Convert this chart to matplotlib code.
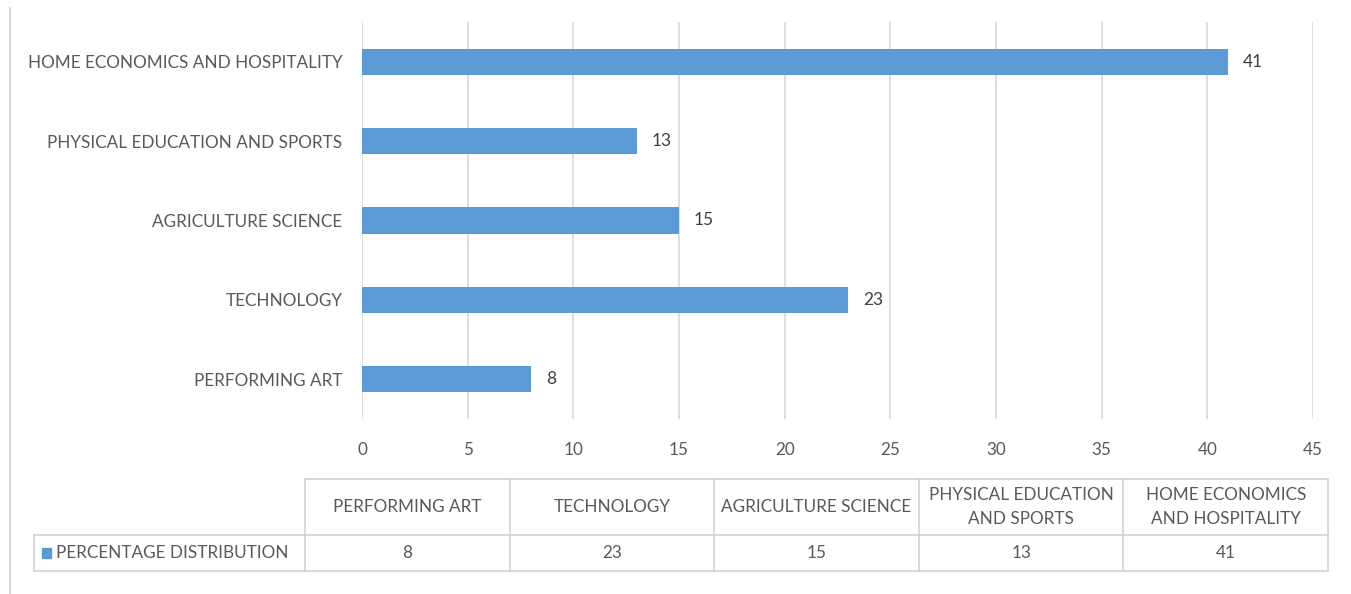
import matplotlib
matplotlib.use("Agg")
import matplotlib.pyplot as plt
from matplotlib.lines import Line2D
from matplotlib.patches import Rectangle

# subjects, bottom to top
subjects = ["PERFORMING ART", "TECHNOLOGY", "AGRICULTURE SCIENCE",
            "PHYSICAL EDUCATION AND SPORTS", "HOME ECONOMICS AND HOSPITALITY"]
table_heads = ["PERFORMING ART", "TECHNOLOGY", "AGRICULTURE SCIENCE",
               "PHYSICAL EDUCATION\nAND SPORTS", "HOME ECONOMICS\nAND HOSPITALITY"]
percent = [8, 23, 15, 13, 41]
series_name = "PERCENTAGE DISTRIBUTION"
xticks = [0, 5, 10, 15, 20, 25, 30, 35, 40, 45]

blue = "#5B9BD5"
grey_txt = "#595959"
grid_c = "#D9D9D9"

plt.rcParams["font.family"] = ["Lato", "DejaVu Sans"]

W, H = 1351, 594
fig = plt.figure(figsize=(W / 100, H / 100), dpi=100)

def fx(px):
    return px / W

def fy(py):
    return 1 - py / H

# outer frame line on the left
fig.add_artist(Line2D([fx(10), fx(10)], [fy(8), fy(594)], color="#D0D0D0", lw=1.2))

ax = fig.add_axes([fx(362), fy(419), fx(1313 - 362), fy(22) - fy(419)])
ypos = list(range(len(subjects)))
ax.barh(ypos, percent, height=0.33, color=blue, zorder=3)
for y, v in zip(ypos, percent):
    ax.text(v + 0.7, y, str(v), va="center", ha="left", fontsize=12.5, color="#404040")

ax.set_xlim(0, 45)
ax.set_ylim(-0.5, 4.5)
ax.set_xticks(xticks)
ax.set_xticklabels([])
ax.set_yticks(ypos)
ax.set_yticklabels(subjects, fontsize=12.3, color=grey_txt)
ax.tick_params(axis="y", length=0, pad=14)
ax.tick_params(axis="x", length=0)
ax.grid(axis="x", color=grid_c, lw=1.2, zorder=0)
for s in ax.spines.values():
    s.set_visible(False)

# x tick numbers sit above the data table
for t in xticks:
    ax.annotate(str(t), xy=(t, 0), xycoords=("data", "axes fraction"),
                xytext=(0, -22.5), textcoords="offset points",
                ha="center", va="center", fontsize=12.3, color=grey_txt)

# data table under the chart
tab_left, tab_right = fx(305), fx(1328)
top, mid, bot = fy(479), fy(535), fy(571)
n = len(subjects)
cw = (tab_right - tab_left) / n
line_kw = dict(color="#CFCFCF", lw=1.1)
fig.add_artist(Line2D([tab_left, tab_right], [top, top], **line_kw))
fig.add_artist(Line2D([fx(34), tab_right], [mid, mid], **line_kw))
fig.add_artist(Line2D([fx(34), tab_right], [bot, bot], **line_kw))
fig.add_artist(Line2D([fx(34), fx(34)], [mid, bot], **line_kw))
for i in range(n + 1):
    xx = tab_left + i * cw
    fig.add_artist(Line2D([xx, xx], [top, bot], **line_kw))
for i in range(n):
    cx = tab_left + (i + 0.5) * cw
    fig.text(cx, (top + mid) / 2, table_heads[i], ha="center", va="center",
             fontsize=12.3, color=grey_txt, linespacing=1.55)
    fig.text(cx, (mid + bot) / 2, str(percent[i]), ha="center", va="center",
             fontsize=12.3, color=grey_txt)

# legend key in the row header
fig.add_artist(Rectangle((fx(42), (mid + bot) / 2 - 0.009), fx(9), 0.018,
                         color=blue))
fig.text(fx(56), (mid + bot) / 2, series_name, ha="left", va="center",
         fontsize=12.3, color=grey_txt)

fig.savefig("out.png", dpi=100, facecolor="white")
